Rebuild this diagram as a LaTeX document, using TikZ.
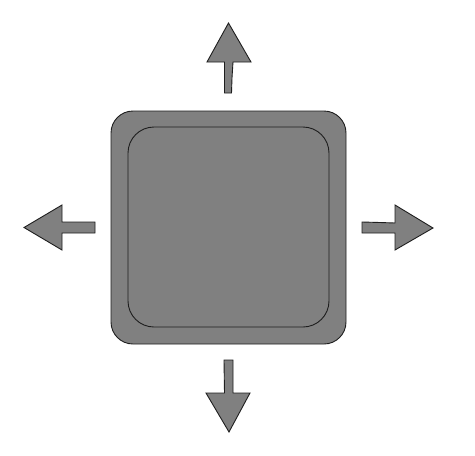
\documentclass[tikz,border=0pt]{standalone}
\begin{document}
\begin{tikzpicture}[x=1pt,y=-1pt,
  shapefill/.style={fill={rgb,255:red,128;green,128;blue,128}, draw={rgb,255:red,30;green,30;blue,30}, line width=0.9pt, line join=miter}]
\useasboundingbox (0,0) rectangle (475,456);
% outer and inner squares
\draw[shapefill, rounded corners=22pt] (111,111) rectangle (346,344);
\draw[draw={rgb,255:red,30;green,30;blue,30}, line width=0.9pt, rounded corners=26pt] (128,127) rectangle (329,327);
% up arrow
\draw[shapefill] (224.5,93) -- (224.5,62) -- (207,62) -- (228.5,23) -- (251,62) -- (233,62) -- (232,78) -- (231.5,93) -- cycle;
% down arrow
\draw[shapefill] (224,360) -- (233,360) -- (233,393) -- (250,393) -- (229,432) -- (206,393) -- (224.5,393) -- cycle;
% left arrow
\draw[shapefill] (95,222) -- (95,233) -- (62,233) -- (62,250) -- (24,227.5) -- (62,205) -- (62,222) -- cycle;
% right arrow
\draw[shapefill] (362,222) -- (380,222.5) -- (395,223) -- (395,205) -- (433,228) -- (395,250) -- (395,233) -- (362,233) -- cycle;
\end{tikzpicture}
\end{document}
